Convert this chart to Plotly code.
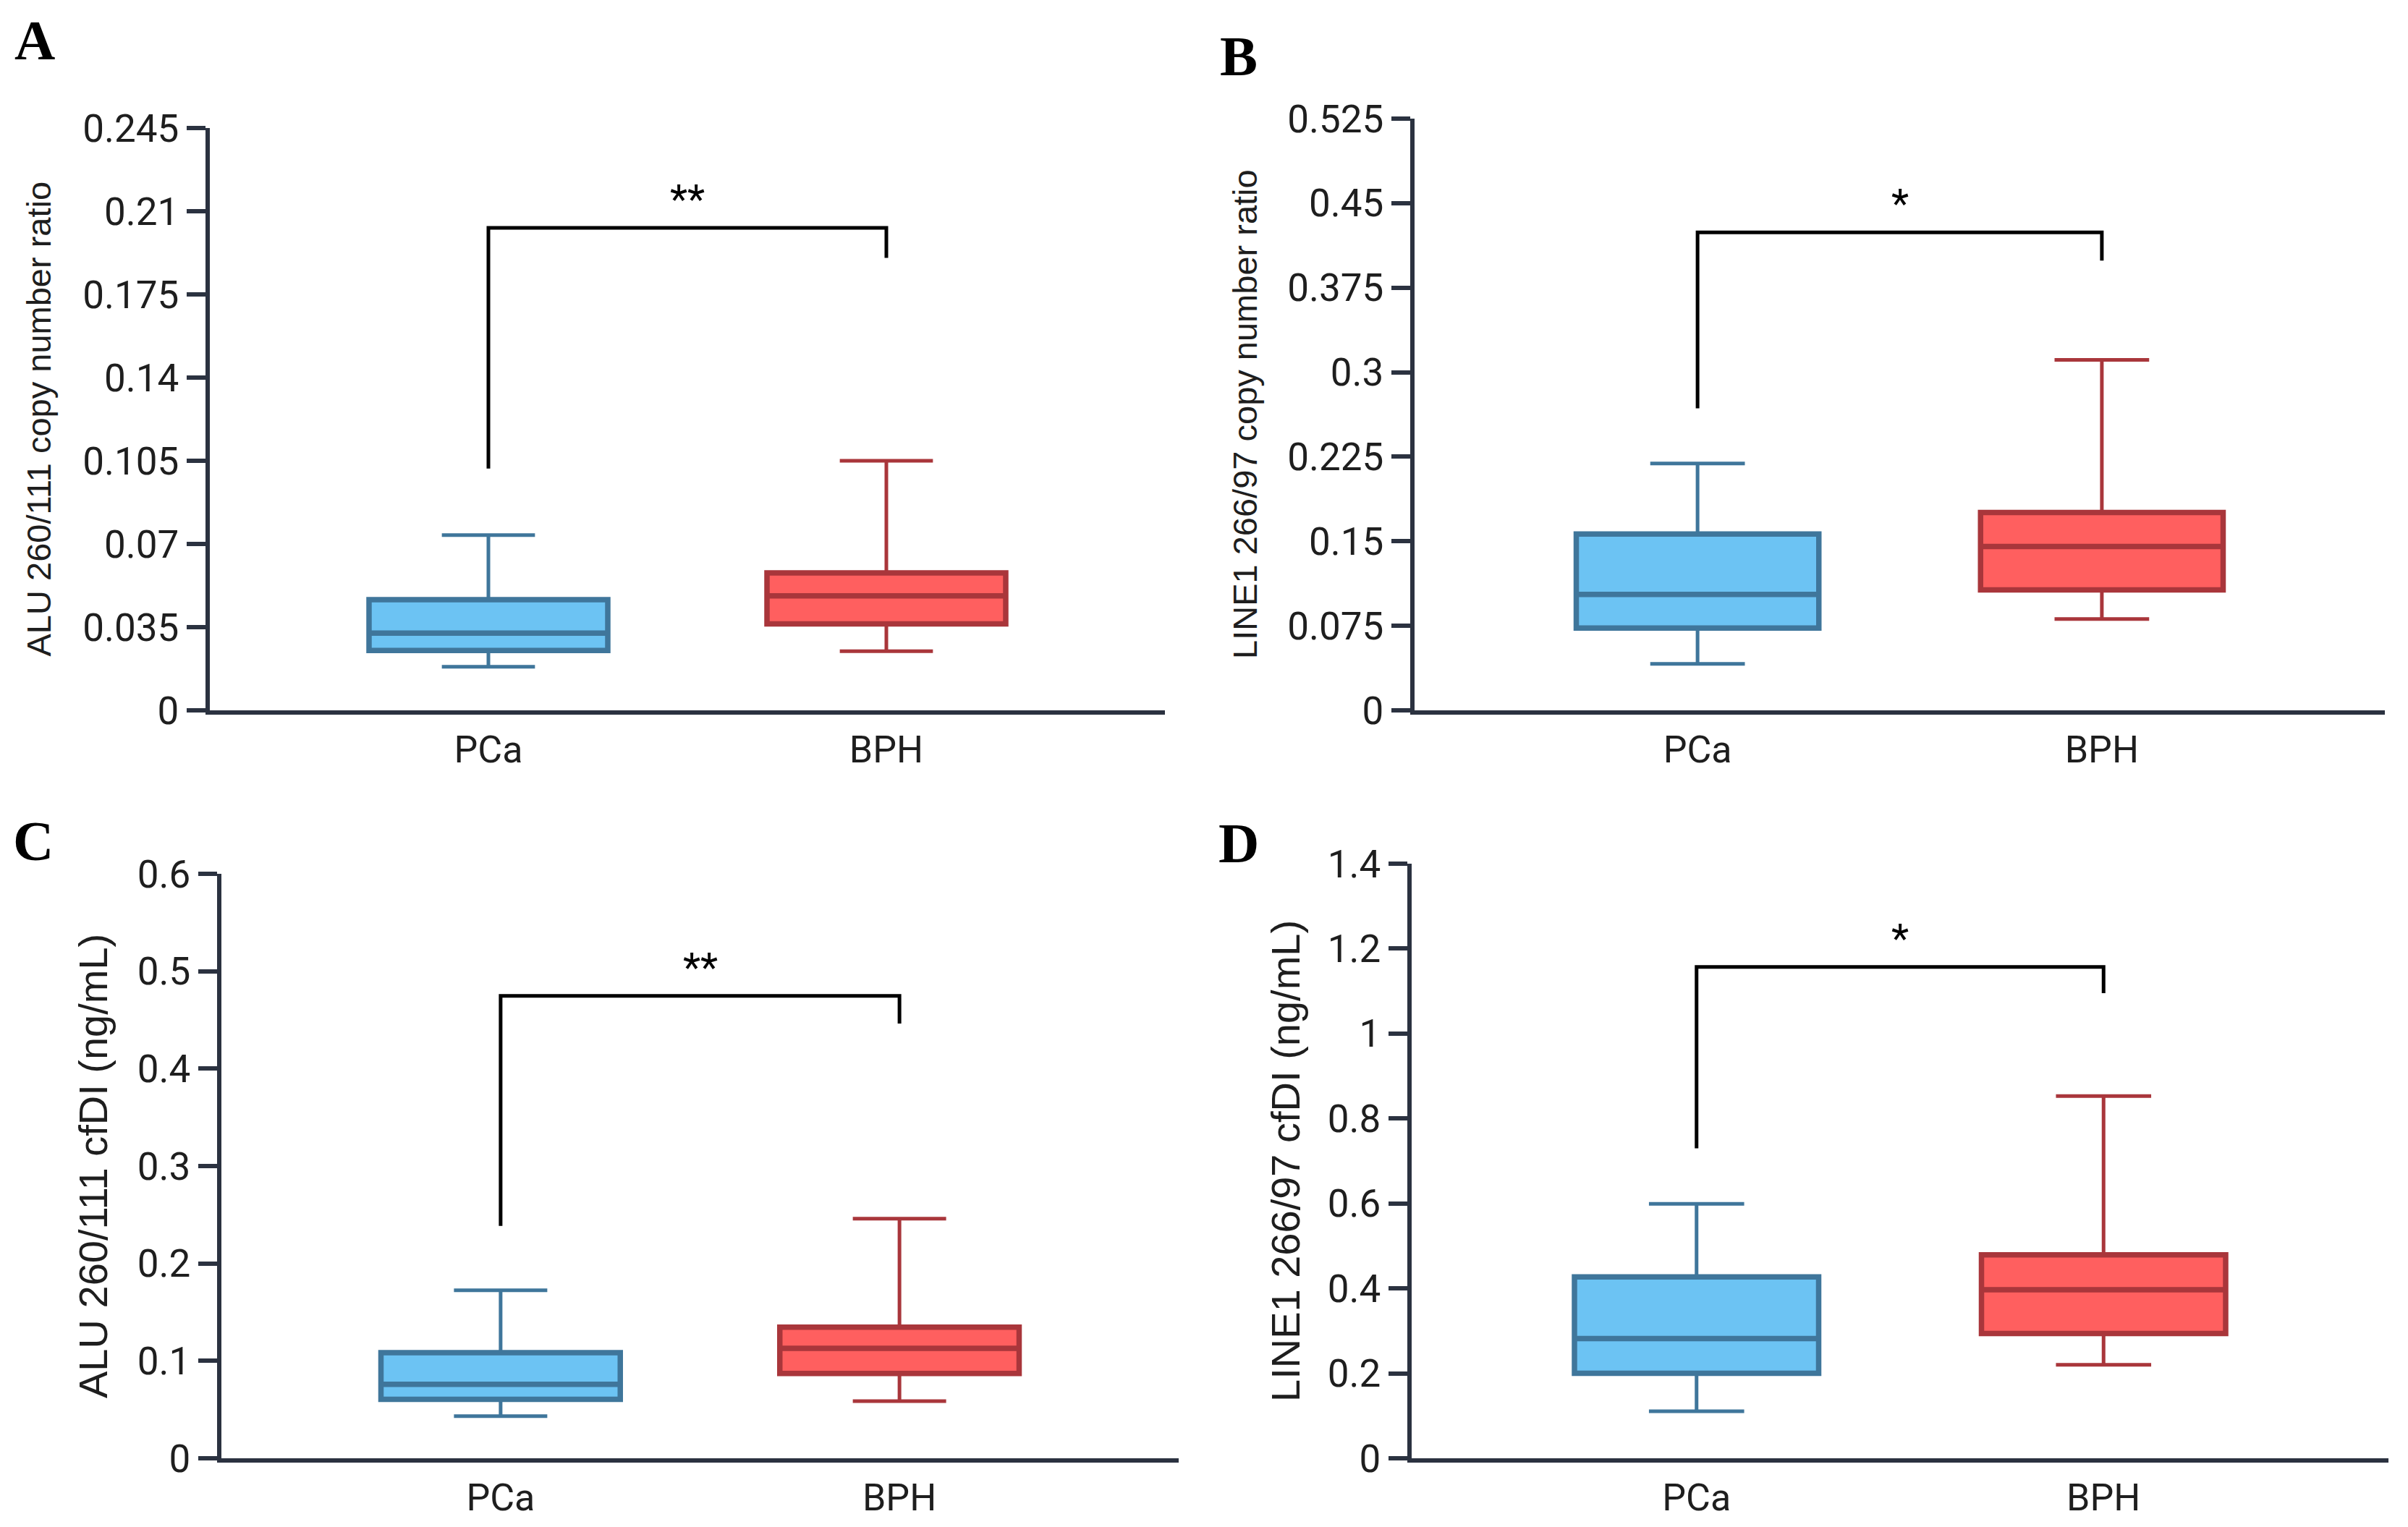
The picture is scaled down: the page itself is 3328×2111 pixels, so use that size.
import plotly.graph_objects as go

W, H = 3328, 2111

groups = ["PCa", "BPH"]

# Panel A: ALU 260/111 copy number ratio
a_lowerfence = [0.0183, 0.0249]
a_q1 = [0.0252, 0.0364]
a_median = [0.0325, 0.0482]
a_q3 = [0.0466, 0.0578]
a_upperfence = [0.0737, 0.105]
a_ticks = [0, 0.035, 0.07, 0.105, 0.14, 0.175, 0.21, 0.245]
a_ticktext = ["0", "0.035", "0.07", "0.105", "0.14", "0.175", "0.21", "0.245"]
a_bracket = [0.1017, 0.203, 0.203, 0.1904]
a_sig = "**"

# Panel B: LINE1 266/97 copy number ratio
b_lowerfence = [0.0412, 0.0811]
b_q1 = [0.0730, 0.1068]
b_median = [0.1028, 0.1453]
b_q3 = [0.1565, 0.1755]
b_upperfence = [0.219, 0.311]
b_ticks = [0, 0.075, 0.15, 0.225, 0.3, 0.375, 0.45, 0.525]
b_ticktext = ["0", "0.075", "0.15", "0.225", "0.3", "0.375", "0.45", "0.525"]
b_bracket = [0.268, 0.424, 0.424, 0.399]
b_sig = "*"

# Panel C: ALU 260/111 cfDI (ng/mL)
c_lowerfence = [0.0432, 0.0586]
c_q1 = [0.0605, 0.0870]
c_median = [0.0760, 0.1128]
c_q3 = [0.1085, 0.1345]
c_upperfence = [0.1725, 0.246]
c_ticks = [0, 0.1, 0.2, 0.3, 0.4, 0.5, 0.6]
c_ticktext = ["0", "0.1", "0.2", "0.3", "0.4", "0.5", "0.6"]
c_bracket = [0.2386, 0.4746, 0.4746, 0.4463]
c_sig = "**"

# Panel D: LINE1 266/97 cfDI (ng/mL)
d_lowerfence = [0.1106, 0.220]
d_q1 = [0.200, 0.294]
d_median = [0.2817, 0.397]
d_q3 = [0.427, 0.479]
d_upperfence = [0.599, 0.853]
d_ticks = [0, 0.2, 0.4, 0.6, 0.8, 1.0, 1.2, 1.4]
d_ticktext = ["0", "0.2", "0.4", "0.6", "0.8", "1", "1.2", "1.4"]
d_bracket = [0.730, 1.157, 1.157, 1.095]
d_sig = "*"

titles = ["ALU 260/111 copy number ratio", "LINE1 266/97 copy number ratio",
          "ALU 260/111 cfDI (ng/mL)", "LINE1 266/97 cfDI (ng/mL)"]
letters = ["A", "B", "C", "D"]

fill_colors = ["#6CC3F3", "#FF5F5F"]
line_colors = ["#3F769B", "#A9363B"]
AXIS = "#2B3240"

# layout geometry (pixels)
panels_px = [
    dict(x0=290, x1=1610, y0=177, y1=982),
    dict(x0=1955, x1=3296, y0=164, y1=982),
    dict(x0=306, x1=1629, y0=1208, y1=2016),
    dict(x0=1951, x1=3301, y0=1194, y1=2016),
]
title_px = [(53, 47), (1720, 47), (128, 56), (1776, 56)]
letter_px = [(48, 55), (1712, 78), (46, 1162), (1712, 1165)]

data = [
    (a_lowerfence, a_q1, a_median, a_q3, a_upperfence, a_ticks, a_ticktext, a_bracket, a_sig),
    (b_lowerfence, b_q1, b_median, b_q3, b_upperfence, b_ticks, b_ticktext, b_bracket, b_sig),
    (c_lowerfence, c_q1, c_median, c_q3, c_upperfence, c_ticks, c_ticktext, c_bracket, c_sig),
    (d_lowerfence, d_q1, d_median, d_q3, d_upperfence, d_ticks, d_ticktext, d_bracket, d_sig),
]

fig = go.Figure()
layout = dict(
    width=W, height=H, margin=dict(l=0, r=0, t=0, b=0, pad=0, autoexpand=False),
    paper_bgcolor="white", plot_bgcolor="white", showlegend=False,
    annotations=[], boxmode="overlay",
)

for i, (lf, q1, med, q3, uf, ticks, ticktext, br, sig) in enumerate(data):
    n = "" if i == 0 else str(i + 1)
    xa, ya = "x" + n, "y" + n
    p = panels_px[i]
    for g in range(2):
        # full box with thinner whiskers
        fig.add_trace(go.Box(
            x=[groups[g]], q1=[q1[g]], median=[med[g]], q3=[q3[g]],
            lowerfence=[lf[g]], upperfence=[uf[g]],
            boxpoints=False, width=0.6, whiskerwidth=0.39,
            fillcolor=fill_colors[g], line=dict(color=line_colors[g], width=5),
            xaxis=xa, yaxis=ya, hoverinfo="skip",
        ))
        # thicker outline for box body and median (no whisker extent)
        fig.add_trace(go.Box(
            x=[groups[g]], q1=[q1[g]], median=[med[g]], q3=[q3[g]],
            lowerfence=[q1[g]], upperfence=[q3[g]],
            boxpoints=False, width=0.6, whiskerwidth=0.39,
            fillcolor=fill_colors[g], line=dict(color=line_colors[g], width=7.5),
            xaxis=xa, yaxis=ya, hoverinfo="skip",
        ))
    fig.add_trace(go.Scatter(
        x=[groups[0], groups[0], groups[1], groups[1]], y=br,
        mode="lines", line=dict(color="black", width=5),
        xaxis=xa, yaxis=ya, hoverinfo="skip",
    ))
    layout["xaxis" + n] = dict(
        domain=[p["x0"] / W, p["x1"] / W], anchor=ya, automargin=False,
        type="category", categoryorder="array", categoryarray=groups,
        range=[-0.7, 1.7], showline=True, linecolor=AXIS, linewidth=6,
        ticks="", showgrid=False, zeroline=False,
        tickfont=dict(family="Roboto", size=52, color="#1E1E1E"),
        ticklabelstandoff=4,
    )
    layout["yaxis" + n] = dict(
        domain=[1 - p["y1"] / H, 1 - p["y0"] / H], anchor=xa, automargin=False,
        range=[0, ticks[-1]], tickvals=ticks, ticktext=ticktext,
        showline=True, linecolor=AXIS, linewidth=6,
        ticks="outside", ticklen=26, tickwidth=6, tickcolor=AXIS,
        showgrid=False, zeroline=False,
        tickfont=dict(family="Roboto", size=53, color="#1E1E1E"),
        ticklabelstandoff=0,
    )
    # significance stars
    layout["annotations"].append(dict(
        x=0.5, y=br[1], xref=xa, yref=ya, text=sig, showarrow=False,
        yanchor="bottom", yshift=4,
        font=dict(family="Roboto", size=56, color="black"),
    ))
    # y axis title
    tx, ts = title_px[i]
    layout["annotations"].append(dict(
        x=tx / W, y=1 - (p["y0"] + p["y1"]) / 2 / H, xref="paper", yref="paper",
        text=titles[i], textangle=-90, showarrow=False,
        xanchor="center", yanchor="middle",
        font=dict(family="Liberation Sans", size=ts, color="#1E1E1E"),
    ))
    # panel letter
    lx, ly = letter_px[i]
    layout["annotations"].append(dict(
        x=lx / W, y=1 - ly / H, xref="paper", yref="paper",
        text="<b>" + letters[i] + "</b>", showarrow=False,
        xanchor="center", yanchor="middle",
        font=dict(family="Liberation Serif", size=78, color="black"),
    ))

fig.update_layout(**layout)
fig.write_html("out.html", config={"displayModeBar": False},
               post_script="document.body.style.margin='0';")
